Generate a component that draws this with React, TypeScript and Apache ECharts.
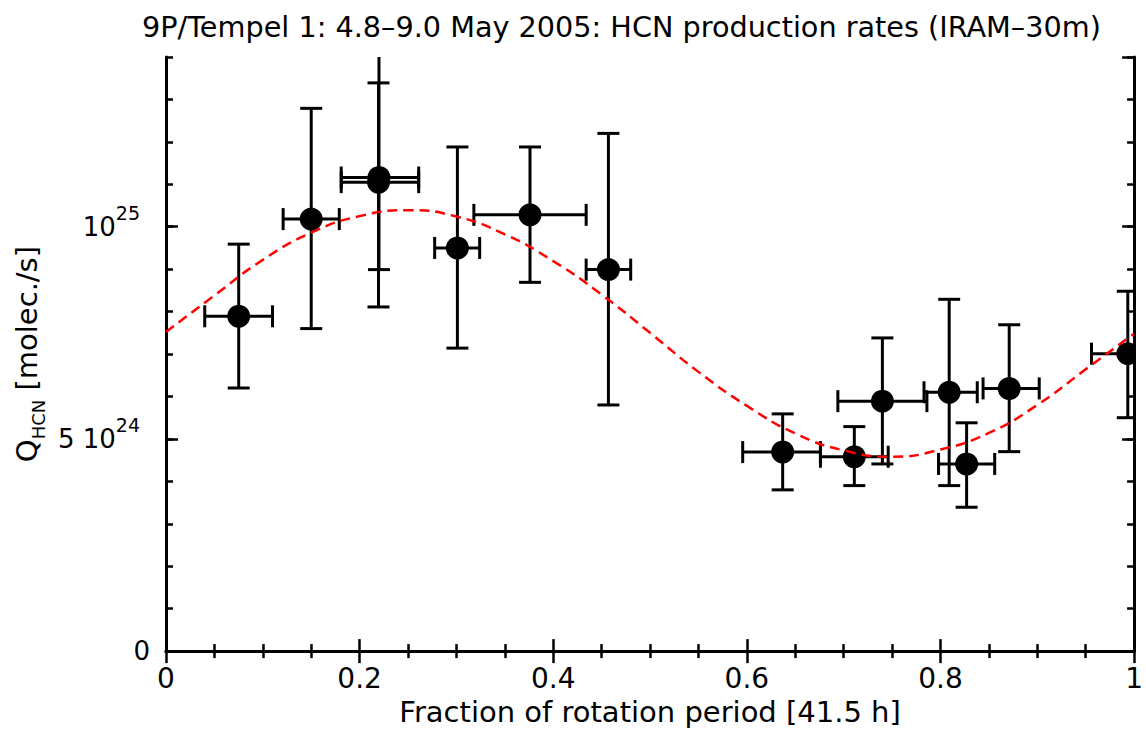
import React, { useEffect, useRef } from "react";
import * as echarts from "echarts";

// ---- data (Q in units of 1e24 molec./s) ----
const xTickLabels = ["0", "0.2", "0.4", "0.6", "0.8", "1"];
const yTickValues = [0, 5, 10];
const yTickBase = ["0", "5 10", "10"];
const yTickExp = ["", "24", "25"];

const phase = [0.0751, 0.15, 0.22, 0.2195, 0.301, 0.376, 0.457, 0.637, 0.711, 0.740, 0.809, 0.827, 0.871, 0.9935];
const phaseLow = [0.040, 0.121, 0.181, 0.181, 0.2775, 0.318, 0.434, 0.5957, 0.676, 0.694, 0.783, 0.798, 0.844, 0.956];
const phaseHigh = [0.110, 0.179, 0.261, 0.261, 0.324, 0.434, 0.480, 0.676, 0.746, 0.786, 0.838, 0.856, 0.902, 1.03];
const qValue = [7.89, 10.18, 11.16, 11.05, 9.50, 10.28, 8.99, 4.69, 4.58, 5.89, 6.10, 4.41, 6.19, 7.01];
const qLow = [6.20, 7.60, 8.99, 8.11, 7.14, 8.69, 5.80, 3.80, 3.90, 4.41, 3.90, 3.39, 4.70, 5.50];
const qHigh = [9.59, 12.79, 14.6, 13.39, 11.88, 11.88, 12.2, 5.59, 5.29, 7.38, 8.29, 5.38, 7.69, 8.48];

const fitPhase = [0, 0.05, 0.1, 0.15, 0.2, 0.25, 0.3, 0.35, 0.4, 0.45, 0.5, 0.55, 0.6, 0.65, 0.7, 0.75, 0.8, 0.85, 0.9, 0.95, 1.0];
const fitQ = [7.52, 8.38, 9.22, 9.86, 10.25, 10.39, 10.24, 9.82, 9.19, 8.40, 7.50, 6.58, 5.78, 5.13, 4.73, 4.58, 4.75, 5.14, 5.80, 6.64, 7.48];

const FONT = "'DejaVu Sans', 'Liberation Sans', sans-serif";

export default function App() {
  const ref = useRef<HTMLDivElement>(null);
  useEffect(() => {
    if (!ref.current) return;
    const chart = echarts.init(ref.current, null, { renderer: "svg" });
    const black = "#000";
    const tickStyle = { color: black, width: 2.5 };
    const lineStyle = { color: black, width: 3 };

    const errData = phase.map((x, i) => [x, qValue[i], phaseLow[i], phaseHigh[i], qLow[i], qHigh[i]]);

    const option: any = {
      animation: false,
      backgroundColor: "#fff",
      textStyle: { fontFamily: FONT },
      title: {
        text: "9P/Tempel 1: 4.8\u20139.0 May 2005: HCN production rates (IRAM\u201330m)",
        left: 137,
        top: 7,
        textStyle: { fontFamily: FONT, fontSize: 28.7, fontWeight: "normal", color: black },
      },
      grid: { left: 166, right: 8, top: 57, bottom: 79, containLabel: false },
      xAxis: [
        {
          type: "value",
          position: "bottom",
          min: 0,
          max: 1,
          interval: 0.2,
          axisLine: { show: true, lineStyle },
          axisTick: { show: true, inside: true, length: 12, lineStyle: tickStyle },
          minorTick: { show: true, splitNumber: 4, length: 7, lineStyle: tickStyle },
          splitLine: { show: false },
          axisLabel: {
            formatter: (v: number) => xTickLabels[Math.round(v / 0.2)] ?? "",
            fontSize: 28,
            color: black,
            margin: 13,
            fontFamily: FONT,
          },
          name: "Fraction of rotation period [41.5 h]",
          nameLocation: "middle",
          nameGap: 44,
          nameTextStyle: { fontSize: 29, color: black, fontFamily: FONT },
        },
        {
          type: "value",
          position: "top",
          min: 0,
          max: 1,
          interval: 0.2,
          axisLine: { show: true, lineStyle },
          axisTick: { show: true, inside: true, length: 12, lineStyle: tickStyle },
          minorTick: { show: true, splitNumber: 4, length: 7, lineStyle: tickStyle },
          splitLine: { show: false },
          axisLabel: { show: false },
        },
      ],
      yAxis: [
        {
          type: "value",
          position: "left",
          min: 0,
          max: 14,
          interval: 1,
          axisLine: { show: true, lineStyle },
          axisTick: { show: true, inside: true, length: 7, lineStyle: tickStyle },
          splitLine: { show: false },
          axisLabel: { show: false },
        },
        {
          type: "value",
          position: "left",
          min: 0,
          max: 14,
          interval: 5,
          axisLine: { show: false },
          axisTick: { show: true, inside: true, length: 12, lineStyle: tickStyle },
          splitLine: { show: false },
          axisLabel: {
            showMaxLabel: false,
            margin: 16,
            color: black,
            formatter: (v: number) => {
              const i = yTickValues.indexOf(Math.round(v));
              if (i < 0 || Math.abs(v - yTickValues[i]) > 1e-6) return "";
              return yTickExp[i] ? `{b|${yTickBase[i]}}{s|${yTickExp[i]}}` : `{b|${yTickBase[i]}}`;
            },
            rich: {
              b: { fontSize: 26, lineHeight: 46, color: black, fontFamily: FONT },
              s: { fontSize: 19, lineHeight: 19, verticalAlign: "top", color: black, fontFamily: FONT, padding: [0, 10, 0, 0] },
            },
          },
          name: "{q|Q}{sub|HCN}{n| [molec./s]}",
          nameLocation: "middle",
          nameGap: 117,
          nameTextStyle: {
            color: black,
            rich: {
              q: { fontSize: 29, lineHeight: 40, color: black, fontFamily: FONT },
              sub: { fontSize: 18, lineHeight: 18, verticalAlign: "bottom", color: black, fontFamily: FONT },
              n: { fontSize: 29, lineHeight: 40, color: black, fontFamily: FONT },
            },
          },
        },
        {
          type: "value",
          position: "right",
          min: 0,
          max: 14,
          interval: 1,
          axisLine: { show: true, lineStyle },
          axisTick: { show: true, inside: true, length: 7, lineStyle: tickStyle },
          splitLine: { show: false },
          axisLabel: { show: false },
        },
        {
          type: "value",
          position: "right",
          min: 0,
          max: 14,
          interval: 5,
          axisLine: { show: false },
          axisTick: { show: true, inside: true, length: 12, lineStyle: tickStyle },
          splitLine: { show: false },
          axisLabel: { show: false },
        },
      ],
      series: [
        {
          type: "custom",
          xAxisIndex: 0,
          yAxisIndex: 0,
          clip: true,
          z: 3,
          encode: { x: [0, 2, 3], y: [1, 4, 5] },
          data: errData,
          renderItem: (params: any, api: any) => {
            const x = api.value(0);
            const y = api.value(1);
            const c = api.coord([x, y]);
            const pl = api.coord([api.value(2), y]);
            const ph = api.coord([api.value(3), y]);
            const pb = api.coord([x, api.value(4)]);
            const pt = api.coord([x, api.value(5)]);
            const cap = 11;
            const st = { stroke: black, lineWidth: 3, fill: null };
            return {
              type: "group",
              children: [
                { type: "line", shape: { x1: pl[0], y1: c[1], x2: ph[0], y2: c[1] }, style: st },
                { type: "line", shape: { x1: pl[0], y1: c[1] - cap, x2: pl[0], y2: c[1] + cap }, style: st },
                { type: "line", shape: { x1: ph[0], y1: c[1] - cap, x2: ph[0], y2: c[1] + cap }, style: st },
                { type: "line", shape: { x1: c[0], y1: pb[1], x2: c[0], y2: pt[1] }, style: st },
                { type: "line", shape: { x1: c[0] - cap, y1: pb[1], x2: c[0] + cap, y2: pb[1] }, style: st },
                { type: "line", shape: { x1: c[0] - cap, y1: pt[1], x2: c[0] + cap, y2: pt[1] }, style: st },
                { type: "circle", shape: { cx: c[0], cy: c[1], r: 11.5 }, style: { fill: black } },
              ],
            };
          },
        },
        {
          type: "line",
          xAxisIndex: 0,
          yAxisIndex: 0,
          z: 4,
          smooth: 0.5,
          symbol: "none",
          clip: true,
          data: fitPhase.map((x, i) => [x, fitQ[i]]),
          lineStyle: { color: "#ff0000", width: 2.5, type: [10, 6] },
        },
      ],
    };
    chart.setOption(option);
    return () => chart.dispose();
  }, []);

  return (
    <div
      ref={ref}
      style={{ position: "fixed", left: 0, top: 0, width: 1146, height: 731, background: "#fff" }}
    />
  );
}
